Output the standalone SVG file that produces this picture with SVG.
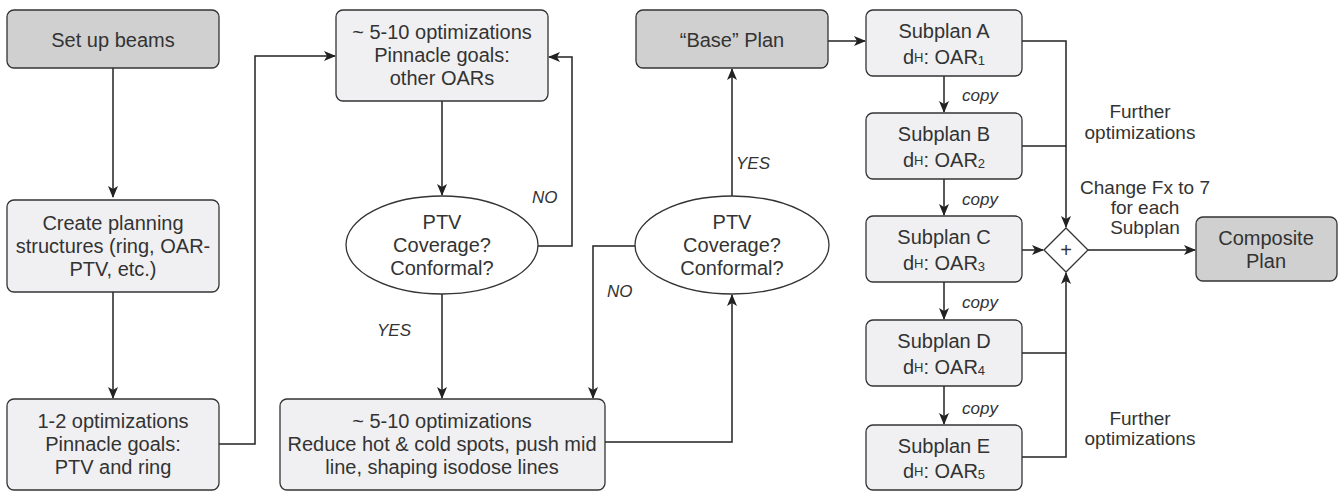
<svg xmlns="http://www.w3.org/2000/svg" width="1340" height="491" viewBox="0 0 1340 491">
<defs>
<marker id="ah" markerUnits="userSpaceOnUse" markerWidth="12" markerHeight="10" refX="11" refY="5" orient="auto">
<path d="M0,0 L12,5 L0,10 L3,5 Z" fill="#222"/>
</marker>
<style>
.box{fill:#f0f0f2;stroke:#333;stroke-width:1.3}
.dark{fill:#d0d0d0;stroke:#333;stroke-width:1.3}
.ell{fill:#fff;stroke:#333;stroke-width:1.3}
.t{font-family:"Liberation Sans",Arial,sans-serif;font-size:20px;fill:#333;text-anchor:middle;dominant-baseline:central}
.s{font-family:"Liberation Sans",Arial,sans-serif;font-size:19px;fill:#333;text-anchor:middle;dominant-baseline:central}
.i{font-family:"Liberation Sans",Arial,sans-serif;font-size:17px;font-style:italic;fill:#333;dominant-baseline:central}
.sub{font-size:13px}
.c{fill:none;stroke:#222;stroke-width:1.5}
</style>
</defs>
<g id="connectors">
<path class="c" d="M113,68 V197" marker-end="url(#ah)"/>
<path class="c" d="M113,292 V398" marker-end="url(#ah)"/>
<path class="c" d="M219,444 H255 V56 H335" marker-end="url(#ah)"/>
<path class="c" d="M442,101 V195" marker-end="url(#ah)"/>
<path class="c" d="M538,246 H572 V57 H549" marker-end="url(#ah)"/>
<path class="c" d="M442,294 V398" marker-end="url(#ah)"/>
<path class="c" d="M636,246 H593 V398" marker-end="url(#ah)"/>
<path class="c" d="M605,442 H732 V295" marker-end="url(#ah)"/>
<path class="c" d="M732,196 V69" marker-end="url(#ah)"/>
<path class="c" d="M828,41 H865" marker-end="url(#ah)"/>
<path class="c" d="M944,76 V112" marker-end="url(#ah)"/>
<path class="c" d="M944,179 V215" marker-end="url(#ah)"/>
<path class="c" d="M944,282 V319" marker-end="url(#ah)"/>
<path class="c" d="M944,386 V424" marker-end="url(#ah)"/>
<path class="c" d="M1022,41 H1066 V227" marker-end="url(#ah)"/>
<path class="c" d="M1022,146 H1066"/>
<path class="c" d="M1022,250 H1043" marker-end="url(#ah)"/>
<path class="c" d="M1088,250 H1195" marker-end="url(#ah)"/>
<path class="c" d="M1022,457 H1066 V273" marker-end="url(#ah)"/>
<path class="c" d="M1022,353 H1066"/>
<text class="i" x="532" y="197">NO</text>
<text class="i" x="377" y="330">YES</text>
<text class="i" x="607" y="291">NO</text>
<text class="i" x="736" y="163">YES</text>
<text class="i" x="962" y="95">copy</text>
<text class="i" x="962" y="199">copy</text>
<text class="i" x="962" y="302">copy</text>
<text class="i" x="962" y="408">copy</text>
</g>
<g id="setup"><rect class="dark" x="7" y="10" width="212" height="58" rx="7"/><text class="t" x="113" y="40">Set up beams</text></g>
<g id="create"><rect class="box" x="7" y="200" width="212" height="92" rx="7"/><text class="t" x="113" y="223">Create planning</text><text class="t" x="113" y="246">structures (ring, OAR-</text><text class="t" x="113" y="269">PTV, etc.)</text></g>
<g id="opt12"><rect class="box" x="7" y="399" width="212" height="91" rx="7"/><text class="t" x="113" y="421">1-2 optimizations</text><text class="t" x="113" y="444">Pinnacle goals:</text><text class="t" x="113" y="467">PTV and ring</text></g>
<g id="opt510a"><rect class="box" x="336" y="10" width="212" height="91" rx="7"/><text class="t" x="442" y="32">~ 5-10 optimizations</text><text class="t" x="442" y="55">Pinnacle goals:</text><text class="t" x="442" y="78">other OARs</text></g>
<g id="ptv1"><ellipse class="ell" cx="442" cy="245" rx="96" ry="49"/><text class="t" x="442" y="222">PTV</text><text class="t" x="442" y="245">Coverage?</text><text class="t" x="442" y="268">Conformal?</text></g>
<g id="opt510b"><rect class="box" x="280" y="399" width="325" height="91" rx="7"/><text class="t" x="442" y="421">~ 5-10 optimizations</text><text class="t" x="442" y="444">Reduce hot &amp; cold spots, push mid</text><text class="t" x="442" y="467">line, shaping isodose lines</text></g>
<g id="ptv2"><ellipse class="ell" cx="732" cy="245" rx="97" ry="49"/><text class="t" x="732" y="222">PTV</text><text class="t" x="732" y="245">Coverage?</text><text class="t" x="732" y="268">Conformal?</text></g>
<g id="base"><rect class="dark" x="636" y="10" width="192" height="58" rx="7"/><text class="t" x="732" y="40">“Base” Plan</text></g>
<g id="subA"><rect class="box" x="866" y="10" width="156" height="66" rx="7"/><text class="t" x="944" y="31">Subplan A</text><text class="t" x="944" y="57">d<tspan class="sub">H</tspan>: OAR<tspan class="sub" dy="3">1</tspan></text></g>
<g id="subB"><rect class="box" x="866" y="113" width="156" height="66" rx="7"/><text class="t" x="944" y="134">Subplan B</text><text class="t" x="944" y="160">d<tspan class="sub">H</tspan>: OAR<tspan class="sub" dy="3">2</tspan></text></g>
<g id="subC"><rect class="box" x="866" y="216" width="156" height="66" rx="7"/><text class="t" x="944" y="237">Subplan C</text><text class="t" x="944" y="263">d<tspan class="sub">H</tspan>: OAR<tspan class="sub" dy="3">3</tspan></text></g>
<g id="subD"><rect class="box" x="866" y="320" width="156" height="66" rx="7"/><text class="t" x="944" y="341">Subplan D</text><text class="t" x="944" y="367">d<tspan class="sub">H</tspan>: OAR<tspan class="sub" dy="3">4</tspan></text></g>
<g id="subE"><rect class="box" x="866" y="425" width="156" height="65" rx="7"/><text class="t" x="944" y="446">Subplan E</text><text class="t" x="944" y="471">d<tspan class="sub">H</tspan>: OAR<tspan class="sub" dy="3">5</tspan></text></g>
<g id="sum"><path d="M1044,250 L1066,228 L1088,250 L1066,272 Z" fill="#fff" stroke="#333" stroke-width="1.3"/><text class="t" x="1066" y="250">+</text></g>
<g id="composite"><rect class="dark" x="1196" y="217" width="141" height="64" rx="7"/><text class="t" x="1266" y="238">Composite</text><text class="t" x="1266" y="261">Plan</text></g>
<g id="labels">
<text class="s" x="1140" y="111">Further</text><text class="s" x="1140" y="132">optimizations</text>
<text class="s" x="1145" y="187">Change Fx to 7</text><text class="s" x="1145" y="207">for each</text><text class="s" x="1145" y="227">Subplan</text>
<text class="s" x="1140" y="418">Further</text><text class="s" x="1140" y="438">optimizations</text>
</g>
</svg>
